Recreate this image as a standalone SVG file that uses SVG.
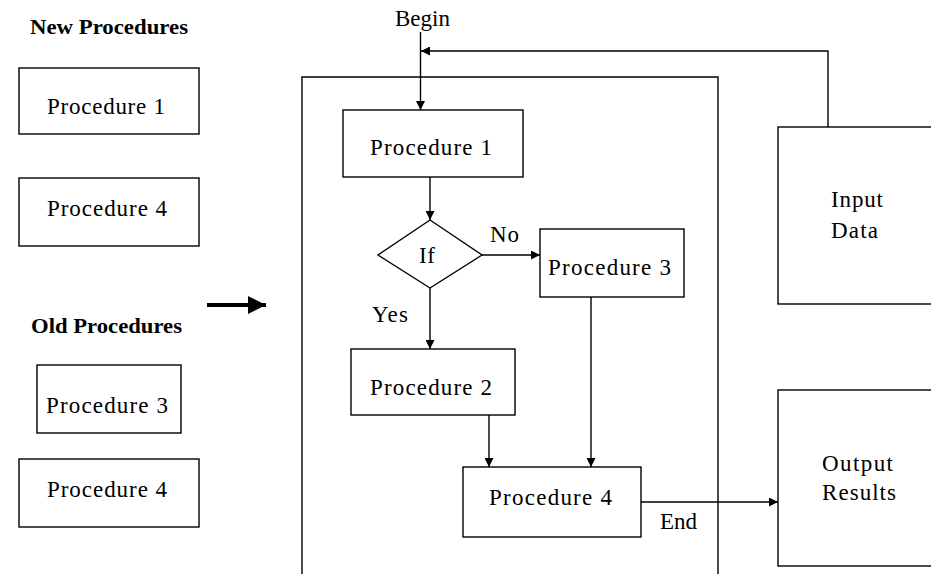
<svg xmlns="http://www.w3.org/2000/svg" width="931" height="574" viewBox="0 0 931 574">
<style>
.box{fill:#fff;stroke:#000;stroke-width:1.4}
.t{font-family:"Liberation Serif","Times New Roman",serif;font-size:23px;fill:#000}
.h{font-family:"Liberation Serif","Times New Roman",serif;font-size:20px;font-weight:bold;fill:#000}
.c{fill:none;stroke:#000;stroke-width:1.4}
</style>
<defs>
<marker id="ah" viewBox="0 0 10 10" refX="10" refY="5" markerUnits="userSpaceOnUse" markerWidth="9" markerHeight="9" orient="auto">
<path d="M0,0 L10,5 L0,10 z" fill="#000"/>
</marker>
<marker id="big" viewBox="0 0 10 10" refX="10" refY="5" markerUnits="userSpaceOnUse" markerWidth="19" markerHeight="18" orient="auto">
<path d="M0,0 L10,5 L0,10 z" fill="#000"/>
</marker>
</defs>

<g id="headings">
<text class="h" x="30" y="34" textLength="158" lengthAdjust="spacingAndGlyphs">New Procedures</text>
<text class="h" x="31" y="333" textLength="151" lengthAdjust="spacingAndGlyphs">Old Procedures</text>
</g>

<g id="new-proc1"><rect class="box" x="19" y="68" width="180" height="66"/><text class="t" x="47" y="114" textLength="118">Procedure 1</text></g>
<g id="new-proc4"><rect class="box" x="19" y="178" width="180" height="68"/><text class="t" x="47" y="216" textLength="120">Procedure 4</text></g>
<g id="old-proc3"><rect class="box" x="37" y="365" width="144" height="68"/><text class="t" x="46" y="413" textLength="122">Procedure 3</text></g>
<g id="old-proc4"><rect class="box" x="19" y="459" width="180" height="68"/><text class="t" x="47" y="497" textLength="120">Procedure 4</text></g>

<g id="container"><path class="c" d="M302,580 V77 H718 V580"/></g>

<g id="proc1"><rect class="box" x="343" y="110" width="180" height="67"/><text class="t" x="370" y="155" textLength="122">Procedure 1</text></g>
<g id="if"><polygon class="box" points="430,220 482,255 430,288 378,255"/><text class="t" x="419" y="263" textLength="16">If</text></g>
<g id="proc3"><rect class="box" x="540" y="229" width="144" height="68"/><text class="t" x="548" y="275" textLength="123">Procedure 3</text></g>
<g id="proc2"><rect class="box" x="351" y="349" width="164" height="66"/><text class="t" x="370" y="395" textLength="122">Procedure 2</text></g>
<g id="proc4"><rect class="box" x="463" y="467" width="178" height="70"/><text class="t" x="489" y="505" textLength="123">Procedure 4</text></g>

<g id="input-data"><rect class="box" x="778" y="127" width="170" height="177"/><text class="t" x="831" y="207" textLength="52">Input</text><text class="t" x="831" y="238" textLength="47">Data</text></g>
<g id="output-results"><rect class="box" x="778" y="390" width="170" height="176"/><text class="t" x="822" y="471" textLength="71">Output</text><text class="t" x="822" y="500" textLength="74">Results</text></g>

<g id="labels">
<text class="t" x="395" y="26" textLength="55">Begin</text>
<text class="t" x="490" y="242" textLength="29">No</text>
<text class="t" x="372" y="322" textLength="36">Yes</text>
<text class="t" x="660" y="529" textLength="37">End</text>
</g>

<g id="connectors">
<line class="c" x1="420.5" y1="32" x2="420.5" y2="110" marker-end="url(#ah)"/>
<polyline class="c" points="828,127 828,51 421,51" marker-end="url(#ah)"/>
<line class="c" x1="430" y1="177" x2="430" y2="220" marker-end="url(#ah)"/>
<line class="c" x1="482" y1="255" x2="540" y2="255" marker-end="url(#ah)"/>
<line class="c" x1="430" y1="288" x2="430" y2="349" marker-end="url(#ah)"/>
<line class="c" x1="489" y1="415" x2="489" y2="467" marker-end="url(#ah)"/>
<line class="c" x1="591" y1="297" x2="591" y2="467" marker-end="url(#ah)"/>
<line class="c" x1="641" y1="502" x2="778" y2="502" marker-end="url(#ah)"/>
<line x1="207" y1="305" x2="266" y2="305" stroke="#000" stroke-width="4" marker-end="url(#big)"/>
</g>
</svg>
